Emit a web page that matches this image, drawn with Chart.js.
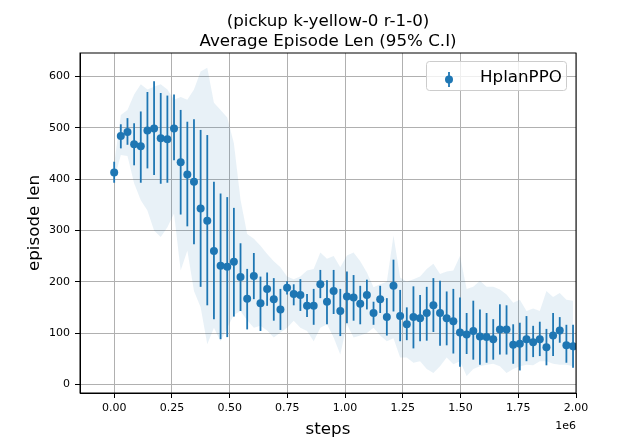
<!DOCTYPE html>
<html>
<head>
<meta charset="utf-8">
<script src="https://cdn.jsdelivr.net/npm/chart.js@4.4.1/dist/chart.umd.min.js"></script>
<style>
  body { margin: 0; background: #fff; }
  #wrap { width: 640px; height: 440px; }
</style>
</head>
<body>
<div id="wrap"><canvas id="myChart" width="640" height="440"></canvas></div>
<script>
const titleLines = ["(pickup k-yellow-0 r-1-0)", "Average Episode Len (95% C.I)"];
const seriesName = "HplanPPO";

const steps = [0, 28800, 57600, 86400, 115200, 144000, 172800, 201600, 230400, 259200,
  288000, 316800, 345600, 374400, 403200, 432000, 460800, 489600, 518400, 547200,
  576000, 604800, 633600, 662400, 691200, 720000, 748800, 777600, 806400, 835200,
  864000, 892800, 921600, 950400, 979200, 1008000, 1036800, 1065600, 1094400, 1123200,
  1152000, 1180800, 1209600, 1238400, 1267200, 1296000, 1324800, 1353600, 1382400, 1411200,
  1440000, 1468800, 1497600, 1526400, 1555200, 1584000, 1612800, 1641600, 1670400, 1699200,
  1728000, 1756800, 1785600, 1814400, 1843200, 1872000, 1900800, 1929600, 1958400, 1987200];

// mean episode length per step
const meanLen = [413, 484, 492, 468, 464, 495, 499, 480, 478, 499,
  433, 409, 395, 343, 319, 260, 231, 229, 239, 209,
  167, 211, 158, 186, 166, 146, 188, 176, 174, 153,
  153, 195, 161, 182, 143, 171, 169, 157, 174, 139,
  166, 131, 192, 133, 117, 131, 129, 139, 154, 139,
  129, 123, 101, 97, 104, 93, 92, 88, 107, 107,
  77, 79, 88, 82, 88, 72, 95, 105, 76, 74];

// 95% C.I. error bar ends
const errHigh = [434, 507, 519, 509, 532, 570, 591, 568, 563, 565,
  535, 512, 517, 496, 486, 395, 372, 365, 344, 275,
  225, 256, 210, 218, 207, 186, 201, 195, 205, 176,
  186, 223, 203, 223, 186, 220, 213, 192, 204, 161,
  192, 168, 243, 184, 150, 191, 174, 190, 207, 202,
  181, 186, 169, 139, 163, 146, 139, 127, 156, 154,
  117, 120, 133, 114, 122, 108, 139, 131, 116, 116];
const errLow = [393, 460, 467, 427, 393, 421, 408, 391, 393, 437,
  331, 308, 273, 190, 154, 127, 88, 92, 132, 143,
  107, 166, 104, 153, 124, 106, 175, 154, 143, 131,
  116, 168, 117, 137, 94, 119, 124, 117, 146, 116,
  139, 95, 142, 84, 86, 70, 84, 85, 102, 75,
  76, 60, 34, 59, 48, 38, 42, 48, 58, 58,
  40, 27, 45, 53, 55, 37, 55, 81, 42, 32];

// shaded band
const bandHigh = [430, 525, 535, 565, 585, 575, 580, 585, 575, 555,
  560, 555, 575, 610, 617, 549, 535, 520, 470, 360,
  293, 284, 270, 254, 240, 228, 210, 205, 210, 222,
  225, 257, 245, 250, 228, 251, 257, 240, 218, 189,
  195, 200, 290, 208, 200, 205, 210, 225, 235, 215,
  220, 222, 250, 186, 190, 202, 190, 190, 185, 175,
  159, 165, 143, 148, 143, 182, 170, 178, 165, 163];
const bandLow = [400, 447, 445, 392, 359, 339, 300, 287, 306, 333,
  222, 261, 182, 150, 78, 110, 84, 110, 135, 143,
  125, 110, 114, 105, 91, 101, 110, 124, 110, 104,
  84, 110, 117, 91, 58, 117, 91, 95, 100, 110,
  95, 84, 90, 52, 52, 42, 45, 30, 22, 35,
  52, 39, 45, 16, 30, 35, 38, 40, 35, 22,
  30, 35, 38, 37, 45, 45, 40, 38, 38, 35];

const xTicks = [0, 250000, 500000, 750000, 1000000, 1250000, 1500000, 1750000, 2000000];
const yTicks = [0, 100, 200, 300, 400, 500, 600];

const blue = "#1f77b4";
const FONT = "DejaVu Sans";

const toPoints = (vals) => steps.map((s, i) => ({ x: s, y: vals[i] }));

const errorBars = {
  id: "errorBars",
  beforeDatasetDraw(chart, args) {
    if (args.index !== 2) return;
    const { ctx, scales } = chart;
    ctx.save();
    ctx.strokeStyle = blue;
    ctx.lineWidth = 1.8;
    steps.forEach(function (s, i) {
      const x = scales.x.getPixelForValue(s);
      ctx.beginPath();
      ctx.moveTo(x, scales.y.getPixelForValue(errLow[i]));
      ctx.lineTo(x, scales.y.getPixelForValue(errHigh[i]));
      ctx.stroke();
    });
    ctx.restore();
  },
};

const decorations = {
  id: "decorations",
  afterDraw(chart) {
    const { ctx, chartArea } = chart;
    ctx.save();
    // top / right spines
    ctx.strokeStyle = "#000";
    ctx.lineWidth = 1;
    ctx.strokeRect(chartArea.left, chartArea.top, chartArea.right - chartArea.left, chartArea.bottom - chartArea.top);

    // title over the axes
    const cx = (chartArea.left + chartArea.right) / 2;
    ctx.fillStyle = "#000";
    ctx.textAlign = "center";
    ctx.textBaseline = "alphabetic";
    ctx.font = "16.7px '" + FONT + "'";
    ctx.fillText(titleLines[0], cx, 26);
    ctx.fillText(titleLines[1], cx, 46);

    // offset text
    ctx.font = "11px '" + FONT + "'";
    ctx.textAlign = "right";
    ctx.fillText("1e6", chartArea.right, 429);

    // legend
    const lx = 426.5, ly = 61.5, lw = 140, lh = 29;
    ctx.beginPath();
    ctx.roundRect(lx, ly, lw, lh, 3);
    ctx.fillStyle = "rgba(255,255,255,0.8)";
    ctx.fill();
    ctx.strokeStyle = "#cccccc";
    ctx.stroke();
    ctx.strokeStyle = blue;
    ctx.lineWidth = 1.8;
    ctx.beginPath();
    ctx.moveTo(449, 72);
    ctx.lineTo(449, 87);
    ctx.stroke();
    ctx.fillStyle = blue;
    ctx.beginPath();
    ctx.arc(449, 79.5, 4, 0, Math.PI * 2);
    ctx.fill();
    ctx.fillStyle = "#000";
    ctx.textAlign = "left";
    ctx.font = "16.7px '" + FONT + "'";
    ctx.fillText(seriesName, 480, 82);
    ctx.restore();
  },
};

const ctx = document.getElementById("myChart").getContext("2d");

new Chart(ctx, {
  type: "line",
  data: {
    datasets: [
      {
        label: "band-high",
        data: toPoints(bandHigh),
        fill: "+1",
        backgroundColor: "rgba(31, 119, 180, 0.1)",
        borderWidth: 0,
        borderColor: "rgba(0,0,0,0)",
        pointRadius: 0,
        tension: 0,
      },
      {
        label: "band-low",
        data: toPoints(bandLow),
        fill: false,
        borderWidth: 0,
        borderColor: "rgba(0,0,0,0)",
        pointRadius: 0,
        tension: 0,
      },
      {
        label: seriesName,
        data: toPoints(meanLen),
        showLine: false,
        pointRadius: 4,
        pointBackgroundColor: blue,
        pointBorderWidth: 0,
        backgroundColor: blue,
        borderColor: blue,
      },
    ],
  },
  options: {
    responsive: false,
    animation: false,
    devicePixelRatio: 1,
    layout: {
      padding: { top: 53, right: 64, bottom: 0, left: 0 },
    },
    scales: {
      x: {
        type: "linear",
        min: -148000,
        max: 2000000,
        afterBuildTicks: function (scale) {
          scale.ticks = xTicks.map((v) => ({ value: v }));
        },
        afterFit: function (scale) {
          scale.height = 47;
        },
        ticks: {
          autoSkip: false,
          maxRotation: 0,
          padding: 4,
          color: "#000",
          font: { family: FONT, size: 11 },
          callback: function (value) {
            return (value / 1e6).toFixed(2);
          },
        },
        grid: {
          color: "#b0b0b0",
          lineWidth: 1,
          tickColor: "#000",
          tickLength: 5,
        },
        border: { color: "#000", width: 1 },
        title: {
          display: true,
          text: "steps",
          color: "#000",
          font: { family: FONT, size: 16.7 },
          padding: { top: 0, bottom: 0 },
        },
      },
      y: {
        type: "linear",
        min: -17,
        max: 646,
        afterBuildTicks: function (scale) {
          scale.ticks = yTicks.map((v) => ({ value: v }));
        },
        afterFit: function (scale) {
          scale.width = 80;
        },
        ticks: {
          padding: 5,
          color: "#000",
          font: { family: FONT, size: 11 },
        },
        grid: {
          color: "#b0b0b0",
          lineWidth: 1,
          tickColor: "#000",
          tickLength: 5,
        },
        border: { color: "#000", width: 1 },
        title: {
          display: true,
          text: "episode len",
          color: "#000",
          font: { family: FONT, size: 16.7 },
          padding: { top: 25, bottom: 0 },
        },
      },
    },
    plugins: {
      legend: { display: false },
      title: { display: false },
      tooltip: { enabled: false },
    },
  },
  plugins: [errorBars, decorations],
});
</script>
</body>
</html>
